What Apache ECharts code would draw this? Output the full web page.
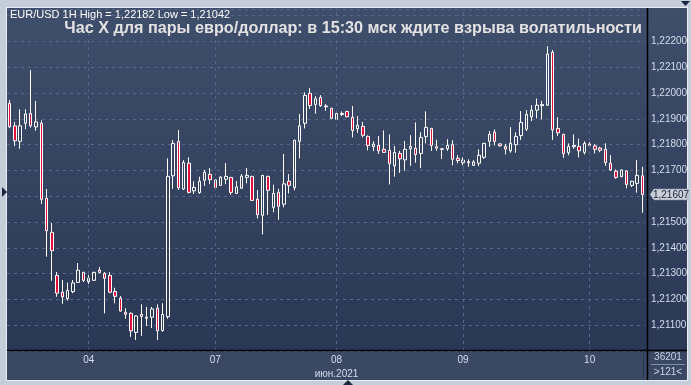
<!DOCTYPE html>
<html>
<head>
<meta charset="utf-8">
<script src="https://cdn.jsdelivr.net/npm/echarts@6/dist/echarts.min.js"></script>
<style>
html,body{margin:0;padding:0;background:#c3ceda;}
#chart{width:691px;height:385px;}
</style>
</head>
<body>
<div id="chart"></div>
<script>
// ---- data ----
const symbolName = 'EUR/USD 1H';
const titleText = 'Час X для пары евро/доллар: в 15:30 мск ждите взрыва волатильности';
const monthLabel = 'июн.2021';
const counterText = '36201';
// trading sessions: [day, first hour, last hour]
const sessions = [['03', 9, 23], ['04', 0, 23], ['07', 1, 23], ['08', 0, 23], ['09', 0, 23], ['10', 0, 10]];
const dayLabels = ['04', '07', '08', '09', '10'];
const yTickLabels = ['1,21100', '1,21200', '1,21300', '1,21400', '1,21500', '1,21700', '1,21800', '1,21900', '1,22000', '1,22100', '1,22200'];

const open = [
1.21960,1.21873,1.21813,1.21883,1.21921,1.21869,1.21883,1.21592,1.21460,1.21293,
1.21228,1.21203,1.21230,1.21266,1.21305,1.21282,1.21274,1.21314,1.21301,1.21293,
1.21231,1.21205,1.21150,1.21146,1.21072,1.21142,1.21131,1.21131,1.21166,1.21079,
1.21133,1.21679,1.21812,1.21628,1.21728,1.21621,1.21614,1.21662,1.21685,1.21663,
1.21642,1.21666,1.21673,1.21611,1.21631,1.21673,1.21677,1.21589,1.21526,1.21677,
1.21557,1.21615,1.21569,1.21658,1.21634,1.21813,1.21883,1.21999,1.21956,1.21983,
1.21950,1.21941,1.21898,1.21921,1.21929,1.21906,1.21862,1.21871,1.21832,1.21792,
1.21797,1.21782,1.21778,1.21718,1.21766,1.21741,1.21784,1.21786,1.21766,1.21831,
1.21863,1.21792,1.21784,1.21784,1.21800,1.21747,1.21730,1.21734,1.21720,1.21728,
1.21751,1.21813,1.21849,1.21803,1.21793,1.21776,1.21800,1.21835,1.21860,1.21908,
1.21934,1.21951,1.21953,1.22158,1.21863,1.21840,1.21769,1.21792,1.21793,1.21770,
1.21802,1.21795,1.21787,1.21782,1.21728,1.21697,1.21676,1.21698,1.21642,1.21650,
1.21679];
const close = [
1.21869,1.21815,1.21873,1.21919,1.21873,1.21888,1.21588,1.21466,1.21389,1.21224,
1.21210,1.21235,1.21264,1.21313,1.21274,1.21269,1.21305,1.21305,1.21282,1.21228,
1.21212,1.21155,1.21142,1.21078,1.21136,1.21134,1.21127,1.21163,1.21078,1.21142,
1.21677,1.21805,1.21632,1.21731,1.21615,1.21634,1.21658,1.21693,1.21664,1.21634,
1.21674,1.21677,1.21615,1.21636,1.21678,1.21681,1.21584,1.21528,1.21681,1.21623,
1.21611,1.21561,1.21648,1.21642,1.21817,1.21873,1.21991,1.21952,1.21978,1.21951,
1.21947,1.21902,1.21921,1.21917,1.21908,1.21855,1.21875,1.21836,1.21797,1.21802,
1.21776,1.21770,1.21726,1.21770,1.21745,1.21782,1.21793,1.21762,1.21828,1.21867,
1.21797,1.21786,1.21782,1.21797,1.21743,1.21738,1.21740,1.21730,1.21733,1.21759,
1.21805,1.21840,1.21813,1.21796,1.21783,1.21805,1.21832,1.21886,1.21917,1.21934,
1.21953,1.21956,1.22151,1.21857,1.21846,1.21766,1.21793,1.21797,1.21776,1.21805,
1.21797,1.21782,1.21778,1.21731,1.21702,1.21673,1.21702,1.21646,1.21658,1.21681,
1.21607];
const low = [
1.21864,1.21795,1.21784,1.21860,1.21866,1.21854,1.21570,1.21366,1.21272,1.21210,
1.21183,1.21195,1.21224,1.21264,1.21267,1.21260,1.21272,1.21301,1.21146,1.21224,
1.21185,1.21153,1.21125,1.21055,1.21043,1.21059,1.21097,1.21089,1.21042,1.21075,
1.21125,1.21629,1.21624,1.21624,1.21611,1.21609,1.21609,1.21640,1.21647,1.21624,
1.21640,1.21647,1.21606,1.21609,1.21629,1.21650,1.21582,1.21514,1.21452,1.21528,
1.21538,1.21509,1.21557,1.21611,1.21623,1.21747,1.21863,1.21939,1.21920,1.21947,
1.21931,1.21900,1.21896,1.21911,1.21907,1.21828,1.21846,1.21828,1.21778,1.21775,
1.21764,1.21769,1.21646,1.21676,1.21691,1.21699,1.21718,1.21730,1.21709,1.21805,
1.21776,1.21776,1.21745,1.21776,1.21720,1.21728,1.21720,1.21714,1.21717,1.21717,
1.21745,1.21792,1.21797,1.21792,1.21762,1.21769,1.21769,1.21818,1.21853,1.21891,
1.21902,1.21898,1.21950,1.21818,1.21833,1.21749,1.21759,1.21784,1.21751,1.21762,
1.21792,1.21766,1.21771,1.21718,1.21698,1.21668,1.21674,1.21631,1.21636,1.21614,
1.21536];
const high = [
1.21973,1.21888,1.21937,1.21937,1.22089,1.21969,1.21894,1.21628,1.21496,1.21306,
1.21275,1.21265,1.21275,1.21341,1.21307,1.21295,1.21307,1.21326,1.21306,1.21306,
1.21245,1.21213,1.21166,1.21150,1.21138,1.21181,1.21171,1.21171,1.21181,1.21185,
1.21747,1.21818,1.21857,1.21740,1.21751,1.21658,1.21676,1.21702,1.21709,1.21665,
1.21678,1.21729,1.21675,1.21659,1.21686,1.21709,1.21679,1.21624,1.21683,1.21679,
1.21645,1.21629,1.21764,1.21686,1.21819,1.21919,1.22003,1.22019,1.21988,1.21992,
1.21957,1.21943,1.21929,1.21929,1.21931,1.21950,1.21911,1.21888,1.21836,1.21813,
1.21833,1.21855,1.21840,1.21795,1.21776,1.21814,1.21837,1.21886,1.21848,1.21929,
1.21865,1.21819,1.21787,1.21821,1.21817,1.21759,1.21751,1.21743,1.21740,1.21782,
1.21807,1.21853,1.21859,1.21805,1.21803,1.21868,1.21848,1.21930,1.21934,1.21953,
1.21979,1.21970,1.22182,1.22167,1.21906,1.21842,1.21805,1.21840,1.21823,1.21813,
1.21810,1.21802,1.21792,1.21805,1.21759,1.21704,1.21704,1.21700,1.21660,1.21740,
1.21714];

// ---- build ----
const categories = [];
const dayStartIdx = [];
sessions.forEach(([d, h0, h1]) => {
  for (let h = h0; h <= h1; h++) {
    if (h === h0 && dayLabels.indexOf(d) >= 0) dayStartIdx.push(categories.length);
    categories.push(d + '.06 ' + String(h).padStart(2, '0') + ':00');
  }
});
const fmt = v => v.toFixed(5).replace('.', ',');
const candles = open.map((o, i) => [o, close[i], low[i], high[i]]);
const lastClose = close[close.length - 1];
const hi = Math.max.apply(null, high), lo = Math.min.apply(null, low);

const FONT = '"Liberation Sans", Arial, sans-serif';
const GRID_COLOR = '#56668a';
const chart = echarts.init(document.getElementById('chart'), null, {renderer: 'canvas'});

const baseGraphics = [
  {id: 'bg', type: 'rect', z: -20, shape: {x: 6.5, y: 7.5, width: 681, height: 373},
   style: {fill: new echarts.graphic.LinearGradient(0, 0, 0, 1, [{offset: 0, color: '#3f4e6b'}, {offset: 1, color: '#283654'}]), stroke: '#e9eef4', lineWidth: 1}},
  {id: 'band', type: 'rect', z: -19, shape: {x: 7, y: 351, width: 680, height: 29}, style: {fill: '#3b4864'}},
  {id: 'vline', type: 'line', z: 50, shape: {x1: 647.5, y1: 8, x2: 647.5, y2: 380}, style: {stroke: '#000', lineWidth: 1.5}},
  {id: 'hline', type: 'line', z: 50, shape: {x1: 7, y1: 350.5, x2: 687, y2: 350.5}, style: {stroke: '#000', lineWidth: 1.5}},
  {id: 'sep1', type: 'line', z: 50, shape: {x1: 643.5, y1: 353, x2: 643.5, y2: 378}, style: {stroke: '#2c3750', lineWidth: 1}},
  {id: 'sep2', type: 'line', z: 50, shape: {x1: 651, y1: 364.5, x2: 685, y2: 364.5}, style: {stroke: '#7f8ea8', lineWidth: 1}},
  {id: 'tri1', type: 'polygon', z: 50, shape: {points: [[681, 1], [690, 1], [685.5, 6]]}, style: {fill: '#1b2640'}},
  {id: 'tri2', type: 'polygon', z: 50, shape: {points: [[2, 187], [2, 197], [7, 192]]}, style: {fill: '#1b2640'}},
  {id: 'tri3', type: 'polygon', z: 50, shape: {points: [[343, 385], [353, 385], [348, 380]]}, style: {fill: '#1b2640'}},
  {id: 'sym', type: 'text', z: 60, x: 10, y: 15,
   style: {text: symbolName + ' High = ' + fmt(hi) + ' Low = ' + fmt(lo), fill: '#ffffff', font: '11px ' + FONT, verticalAlign: 'middle'}},
  {id: 'title', type: 'text', z: 60, x: 642, y: 29,
   style: {text: titleText, fill: '#e2e2e2', font: 'bold 16.2px ' + FONT, align: 'right', verticalAlign: 'middle'}},
  {id: 'cnt', type: 'text', z: 60, x: 668, y: 357,
   style: {text: counterText, fill: '#c9d3e3', font: '10px ' + FONT, align: 'center', verticalAlign: 'middle'}},
  {id: 'bars', type: 'text', z: 60, x: 668, y: 372,
   style: {text: '>' + candles.length + '<', fill: '#c9d3e3', font: '10px ' + FONT, align: 'center', verticalAlign: 'middle'}}
];

chart.setOption({
  animation: false,
  backgroundColor: '#c3ceda',
  graphic: baseGraphics,
  grid: {left: 7, top: 9, width: 638, height: 342, containLabel: false},
  xAxis: {
    type: 'category',
    data: categories,
    boundaryGap: true,
    axisLine: {show: false},
    axisTick: {show: false},
    splitLine: {show: false},
    axisLabel: {
      interval: (idx) => dayStartIdx.indexOf(idx) >= 0,
      formatter: (v) => { const d = v.slice(0, 2); return d === '08' ? d + '\n' + monthLabel : d; },
      color: '#d3dcec', fontSize: 10, fontFamily: FONT, margin: 2, lineHeight: 14
    }
  },
  yAxis: {
    type: 'value',
    position: 'right',
    min: 1.21, max: 1.22326, interval: 0.001,
    axisLine: {show: false},
    axisTick: {show: false},
    splitLine: {show: true, lineStyle: {color: GRID_COLOR, type: [3, 4], width: 1}},
    axisLabel: {
      showMinLabel: false, showMaxLabel: false,
      formatter: (v) => { const s = fmt(v); return yTickLabels.indexOf(s) >= 0 ? s : ''; },
      color: '#d3dcec', fontSize: 10, fontFamily: FONT, margin: 6
    }
  },
  series: [{
    type: 'candlestick',
    data: candles,
    barWidth: 3,
    itemStyle: {color: 'rgba(0,0,0,0)', color0: '#e0103a', borderColor: '#ffffff', borderColor0: '#ffffff', borderWidth: 1},
    markLine: {
      silent: true, symbol: 'none', animation: false,
      data: dayStartIdx.map(i => ({xAxis: i, lineStyle: {color: GRID_COLOR, type: [3, 4], width: 1}, label: {show: false}}))
    }
  }]
});

// last price marker on the price axis
const yLast = chart.convertToPixel({yAxisIndex: 0}, lastClose);
chart.setOption({
  graphic: baseGraphics.concat([
    {id: 'pm', type: 'polygon', z: 70,
     shape: {points: [[650, yLast], [654, yLast - 5.5], [688, yLast - 5.5], [688, yLast + 5.5], [654, yLast + 5.5]]},
     style: {fill: '#c9ced7', stroke: '#8a94a6', lineWidth: 0.5}},
    {id: 'pmt', type: 'text', z: 71, x: 671, y: yLast + 0.5,
     style: {text: fmt(lastClose), fill: '#17223a', font: '10px ' + FONT, align: 'center', verticalAlign: 'middle'}}
  ])
});
</script>
</body>
</html>
